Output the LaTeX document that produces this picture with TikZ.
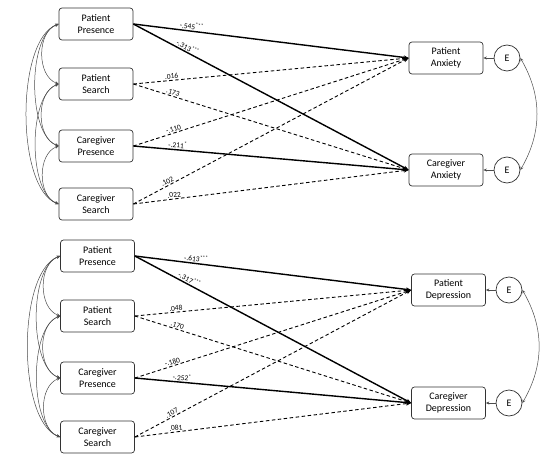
\documentclass[tikz,border=0pt]{standalone}
\usepackage{fontspec}
\setmainfont{Carlito}
\usetikzlibrary{arrows.meta}

\begin{document}
\begin{tikzpicture}[x=1pt,y=1pt,
    var/.style={draw=black!80,line width=0.7pt,rounded corners=3pt,minimum width=74pt,minimum height=32pt,align=center,inner sep=1pt,font=\fontsize{10}{12.5}\selectfont},
    err/.style={draw=black!80,line width=0.7pt,circle,minimum size=26pt,inner sep=0pt,font=\fontsize{10}{12}\selectfont},
    sig/.style={line width=1.4pt,-{Stealth[length=5pt,width=4pt]}},
    ns/.style={line width=0.9pt,dash pattern=on 3.5pt off 2.5pt,-{Stealth[length=5pt,width=4pt]}},
    cov/.style={draw=black!70,line width=0.5pt,{Stealth[length=3.5pt,width=3pt]}-{Stealth[length=3.5pt,width=3pt]}},
    res/.style={draw=black!70,line width=0.5pt,-{Stealth[length=3.5pt,width=3pt]}},
    coef/.style={sloped,above,inner sep=1pt,font=\fontsize{7.5}{8}\selectfont}]
  \useasboundingbox (0,0) rectangle (554,-460);

  % anxiety model
  \node[var] (pp1) at (96,-24) {Patient\\Presence};
  \node[var] (ps1) at (96,-84) {Patient\\Search};
  \node[var] (cp1) at (96,-146) {Caregiver\\Presence};
  \node[var] (cs1) at (96,-204) {Caregiver\\Search};
  \node[var] (pa) at (446,-58) {Patient\\Anxiety};
  \node[var] (ca) at (446,-170) {Caregiver\\Anxiety};
  \node[err] (e1) at (507,-58) {E};
  \node[err] (e2) at (507,-170) {E};

  \draw[sig] (pp1.east) -- node[coef,pos=0.21] {-.545\textsuperscript{***}} (pa.west);
  \draw[sig] (pp1.east) -- node[coef,pos=0.19] {-.313\textsuperscript{***}} (ca.west);
  \draw[ns] (ps1.east) -- node[coef,pos=0.14] {.016} (pa.west);
  \draw[ns] (ps1.east) -- node[coef,pos=0.14] {.173} (ca.west);
  \draw[ns] (cp1.east) -- node[coef,pos=0.15] {-.110} (pa.west);
  \draw[sig] (cp1.east) -- node[coef,pos=0.16] {-.211\textsuperscript{*}} (ca.west);
  \draw[ns] (cs1.east) -- node[coef,pos=0.13] {.102} (pa.west);
  \draw[ns] (cs1.east) -- node[coef,pos=0.15] {.022} (ca.west);

  \draw[res] (e1) -- (pa);
  \draw[res] (e2) -- (ca);
  \draw[cov] (e1.east) to[bend left=30] (e2.east);

  \draw[cov] (pp1.west) to[out=200,in=160,looseness=1.0] (ps1.west);
  \draw[cov] (ps1.west) to[out=200,in=160,looseness=1.0] (cp1.west);
  \draw[cov] (cp1.west) to[out=200,in=160,looseness=1.0] (cs1.west);
  \draw[cov] (pp1.west) to[out=200,in=160,looseness=0.7] (cp1.west);
  \draw[cov] (ps1.west) to[out=200,in=160,looseness=0.7] (cs1.west);
  \draw[cov] (pp1.west) to[out=200,in=160,looseness=0.65] (cs1.west);

  % depression model
  \node[var] (pp2) at (97.5,-256) {Patient\\Presence};
  \node[var] (ps2) at (97.5,-316) {Patient\\Search};
  \node[var] (cp2) at (97.5,-378) {Caregiver\\Presence};
  \node[var] (cs2) at (97.5,-437) {Caregiver\\Search};
  \node[var] (pd) at (448.5,-290) {Patient\\Depression};
  \node[var] (cd) at (448.5,-403) {Caregiver\\Depression};
  \node[err] (e3) at (509,-290) {E};
  \node[err] (e4) at (509,-403) {E};

  \draw[sig] (pp2.east) -- node[coef,pos=0.22] {-.613\textsuperscript{***}} (pd.west);
  \draw[sig] (pp2.east) -- node[coef,pos=0.19] {-.317\textsuperscript{***}} (cd.west);
  \draw[ns] (ps2.east) -- node[coef,pos=0.15] {.048} (pd.west);
  \draw[ns] (ps2.east) -- node[coef,pos=0.15] {.170} (cd.west);
  \draw[ns] (cp2.east) -- node[coef,pos=0.14] {-.180} (pd.west);
  \draw[sig] (cp2.east) -- node[coef,pos=0.17] {-.252\textsuperscript{*}} (cd.west);
  \draw[ns] (cs2.east) -- node[coef,pos=0.14] {.107} (pd.west);
  \draw[ns] (cs2.east) -- node[coef,pos=0.15] {.081} (cd.west);

  \draw[res] (e3) -- (pd);
  \draw[res] (e4) -- (cd);
  \draw[cov] (e3.east) to[bend left=30] (e4.east);

  \draw[cov] (pp2.west) to[out=200,in=160,looseness=1.0] (ps2.west);
  \draw[cov] (ps2.west) to[out=200,in=160,looseness=1.0] (cp2.west);
  \draw[cov] (cp2.west) to[out=200,in=160,looseness=1.0] (cs2.west);
  \draw[cov] (pp2.west) to[out=200,in=160,looseness=0.7] (cp2.west);
  \draw[cov] (ps2.west) to[out=200,in=160,looseness=0.7] (cs2.west);
  \draw[cov] (pp2.west) to[out=200,in=160,looseness=0.65] (cs2.west);
\end{tikzpicture}
\end{document}
